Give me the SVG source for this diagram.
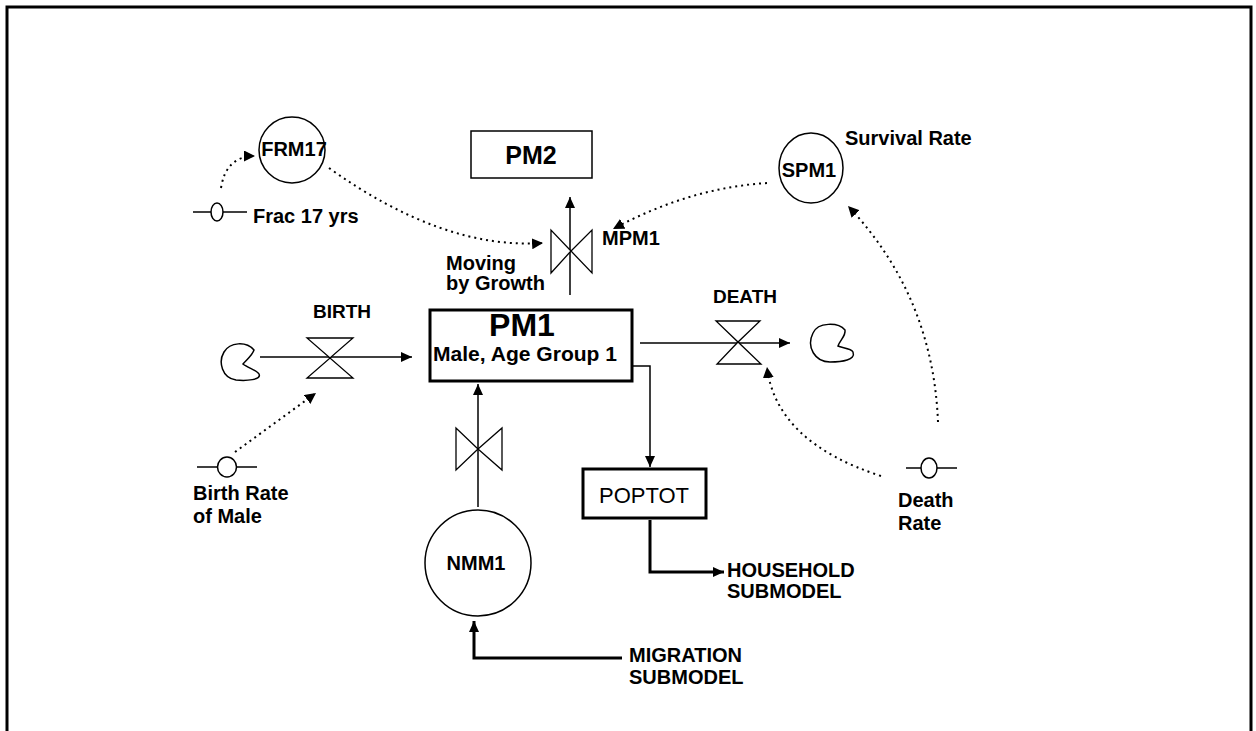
<svg xmlns="http://www.w3.org/2000/svg" width="1256" height="731" viewBox="0 0 1256 731">
<style>
.t{font-family:"Liberation Sans",Arial,Helvetica,sans-serif;font-weight:bold;font-size:20px;fill:#000}
.ln{fill:none;stroke:#000;stroke-width:1.5}
.thick{fill:none;stroke:#000;stroke-width:3}
.dot{fill:none;stroke:#000;stroke-width:2;stroke-dasharray:2 4}
.shape{fill:#fff;stroke:#000;stroke-width:1.5}
.valve{fill:#fff;stroke:#000;stroke-width:1.3}
</style>
<defs>
<marker id="ah" markerUnits="userSpaceOnUse" markerWidth="12" markerHeight="10" refX="11" refY="5" orient="auto">
<path d="M0,0 L11,5 L0,10 Z" fill="#000"/>
</marker>
<marker id="ahd" markerUnits="userSpaceOnUse" markerWidth="12" markerHeight="11" refX="11" refY="5.5" orient="auto">
<path d="M0,0 L11,5.5 L0,11 Z" fill="#000"/>
</marker>
</defs>
<rect width="1256" height="731" fill="#fff"/>
<path d="M7,731 V7 H1251 V731" fill="none" stroke="#000" stroke-width="3"/>

<g id="connectors">
<path class="ln" d="M260,357 H412" marker-end="url(#ah)"/>
<path class="ln" d="M640,343 H790" marker-end="url(#ah)"/>
<path class="ln" d="M570,295 V197" marker-end="url(#ah)"/>
<path class="ln" d="M478,507 V384" marker-end="url(#ah)"/>
<path class="ln" d="M632,366 H650 V467" marker-end="url(#ah)"/>
<path class="thick" d="M650,520 V572 H724" marker-end="url(#ah)"/>
<path class="thick" d="M622,658 H474 V621" marker-end="url(#ah)"/>
<path class="dot" d="M221,188 Q226,156 255,156" marker-end="url(#ahd)"/>
<path class="dot" d="M329,168 Q444,250 543,243" marker-end="url(#ahd)"/>
<path class="dot" d="M767,183 Q689,188 613,229" marker-end="url(#ahd)"/>
<path class="dot" d="M235,452 L316,393" marker-end="url(#ahd)"/>
<path class="dot" d="M881,476 Q776,442 767,367" marker-end="url(#ahd)"/>
<path class="dot" d="M938,422 Q933,296 848,206" marker-end="url(#ahd)"/>
</g>

<g id="PM1">
<rect x="430" y="310" width="202" height="71" fill="#fff" stroke="#000" stroke-width="3"/>
<text class="t" x="522" y="336" text-anchor="middle" style="font-size:32px">PM1</text>
<text class="t" x="433" y="361" textLength="184" lengthAdjust="spacingAndGlyphs">Male, Age Group 1</text>
</g>

<g id="PM2">
<rect x="471" y="131" width="121" height="47" fill="#fff" stroke="#000" stroke-width="1.5"/>
<text class="t" x="531" y="164" text-anchor="middle" style="font-size:25px">PM2</text>
</g>

<g id="POPTOT">
<rect x="583" y="469" width="123" height="49" fill="#fff" stroke="#000" stroke-width="3"/>
<text class="t" x="644" y="503" text-anchor="middle" style="font-weight:normal;font-size:22px">POPTOT</text>
</g>

<g id="FRM17">
<circle class="shape" cx="292" cy="150" r="33"/>
<text class="t" x="294" y="156" text-anchor="middle">FRM17</text>
</g>

<g id="SPM1">
<ellipse class="shape" cx="811" cy="168" rx="32" ry="35"/>
<text class="t" x="809" y="177" text-anchor="middle">SPM1</text>
<text class="t" x="845" y="145">Survival Rate</text>
</g>

<g id="NMM1">
<circle class="shape" cx="478" cy="563" r="53"/>
<text class="t" x="476" y="570" text-anchor="middle">NMM1</text>
</g>

<g id="Frac17">
<path class="ln" d="M193,212 H247"/>
<ellipse class="shape" cx="217" cy="212" rx="6" ry="9"/>
<text class="t" x="253" y="223">Frac 17 yrs</text>
</g>

<g id="BirthRate">
<path class="ln" d="M197,467 H257"/>
<ellipse class="shape" cx="227" cy="467" rx="9.5" ry="10"/>
<text class="t" x="193" y="500">Birth Rate</text>
<text class="t" x="193" y="523">of Male</text>
</g>

<g id="DeathRate">
<path class="ln" d="M906,468 H957"/>
<ellipse class="shape" cx="929" cy="468" rx="8" ry="10"/>
<text class="t" x="898" y="507">Death</text>
<text class="t" x="898" y="530">Rate</text>
</g>

<g id="BIRTH">
<path class="valve" d="M307,338 L353,338 L330,358 Z"/>
<path class="valve" d="M307,378 L353,378 L330,358 Z"/>
<text class="t" x="342" y="318" text-anchor="middle" style="font-size:19px">BIRTH</text>
</g>

<g id="DEATH">
<path class="valve" d="M716,321 L760,321 L738,342 Z"/>
<path class="valve" d="M717,364 L761,364 L738,342 Z"/>
<text class="t" x="745" y="303" text-anchor="middle" style="font-size:19px">DEATH</text>
</g>

<g id="MPM1">
<path class="valve" d="M551,230 L551,273 L571,251 Z"/>
<path class="valve" d="M592,230 L592,273 L571,251 Z"/>
<text class="t" x="602" y="245">MPM1</text>
<text class="t" x="446" y="270">Moving</text>
<text class="t" x="446" y="290">by Growth</text>
</g>

<g id="NMM1valve">
<path class="valve" d="M456,428 L456,470 L478,449 Z"/>
<path class="valve" d="M502,428 L502,470 L478,449 Z"/>
</g>

<g id="sourceCloud">
<path class="shape" d="M254,350 C246,341 230,342 224,352 C218,362 222,378 236,380 C246,381 262,380 259,374 C257,370 248,368 243,364 C246,360 252,356 254,350 Z"/>
</g>

<g id="sinkCloud">
<path class="shape" d="M845,330 C838,322 818,322 813,333 C806,347 815,362 830,362 C842,362 856,360 853,352 C851,348 842,348 838,346 C840,340 846,336 845,330 Z"/>
</g>

<g id="HOUSEHOLD">
<text class="t" x="727" y="577">HOUSEHOLD</text>
<text class="t" x="727" y="598">SUBMODEL</text>
</g>

<g id="MIGRATION">
<text class="t" x="629" y="662">MIGRATION</text>
<text class="t" x="629" y="684">SUBMODEL</text>
</g>
</svg>
